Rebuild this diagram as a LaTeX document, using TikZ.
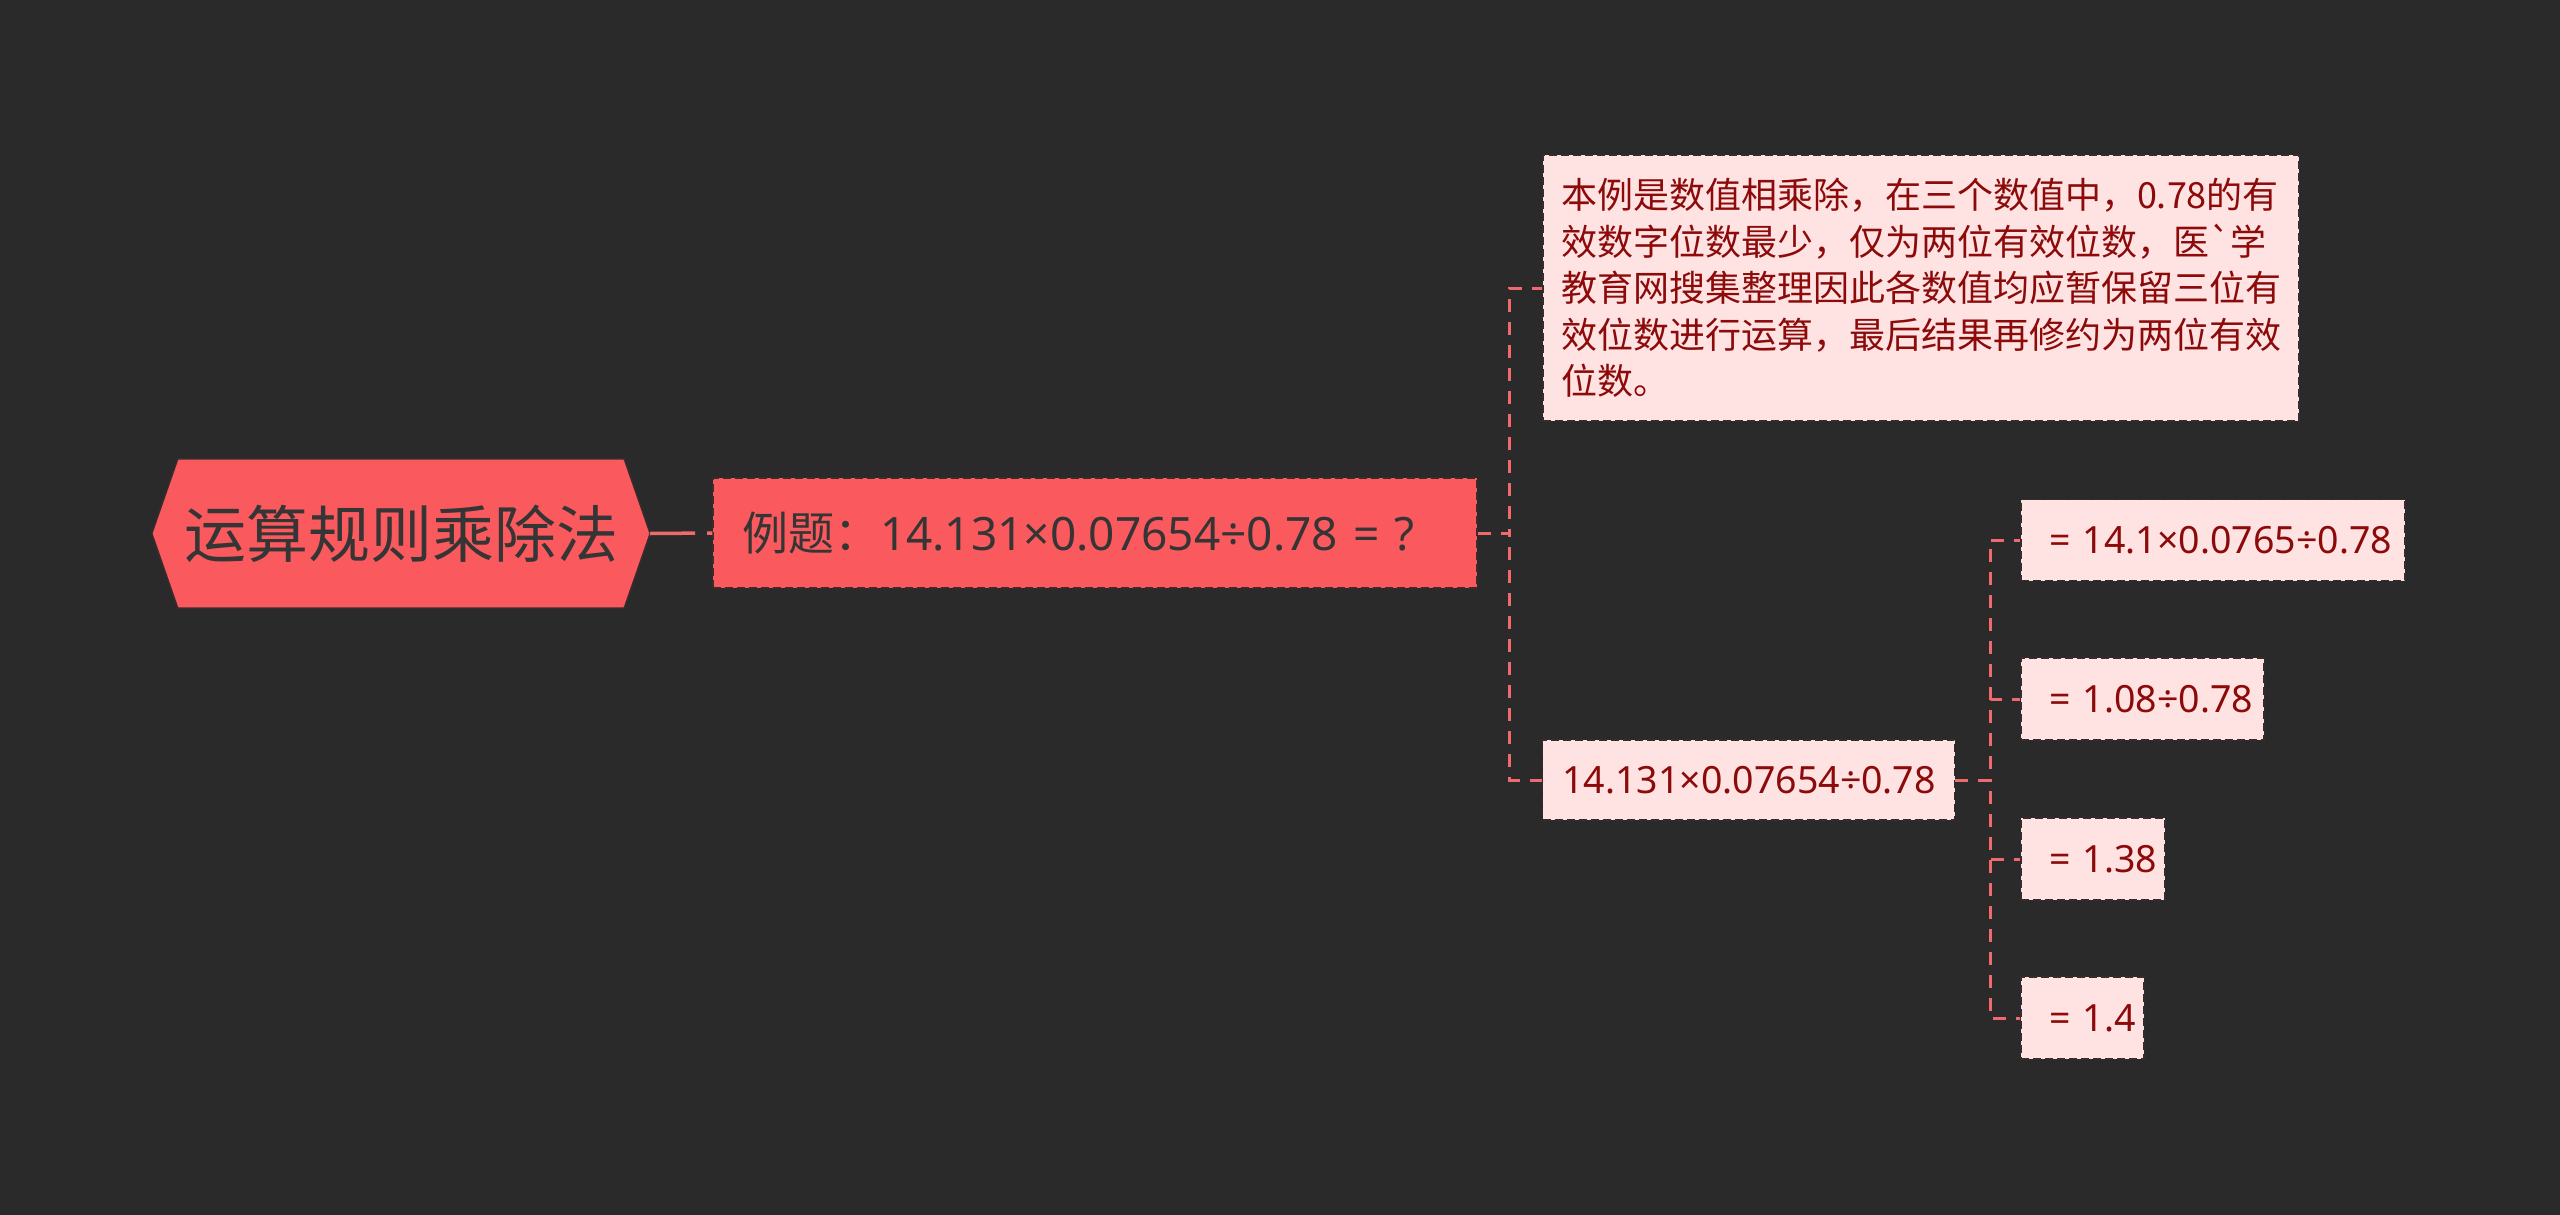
\documentclass[tikz,border=0pt]{standalone}
\usepackage{fontspec}
\newfontfamily\cjk{Noto Sans CJK SC}
\newfontfamily\lat{Noto Sans}
\usetikzlibrary{calc}
\definecolor{bg}{HTML}{2A2A2A}
\definecolor{red1}{HTML}{FA5A5E}
\definecolor{pink1}{HTML}{FFE3E3}
\definecolor{txtred}{HTML}{8C0A0A}
\definecolor{txtdark}{HTML}{353535}
\definecolor{linec}{HTML}{EE6A6C}
\definecolor{bord}{HTML}{3A2C2C}
\begin{document}
\begin{tikzpicture}[x=1pt,y=-1pt,
  conn/.style={draw=linec, line width=3pt, dash pattern=on 13pt off 10pt},
  boxbase/.style={rectangle, draw=bord, line width=1.3pt, dash pattern=on 8pt off 4pt, align=left, inner ysep=0pt, anchor=center},
  lightbox/.style={boxbase, fill=pink1, text=txtred, font=\lat\fontsize{37.5}{46.5}\selectfont},
  redbox/.style={boxbase, fill=red1, text=txtdark, font=\cjk\fontsize{46}{52}\selectfont}
]
\useasboundingbox (0,0) rectangle (2560,1215);
\fill[bg] (0,0) rectangle (2560,1215);

% root
\node[rectangle, minimum width=498pt, minimum height=149pt, inner sep=0pt] (root) at (401,533.5) {};
\fill[red1, draw=bord, line width=1.5pt]
  (root.west) -- ($(root.north west)+(26,0)$) -- ($(root.north east)+(-26,0)$) -- (root.east)
  -- ($(root.south east)+(-26,0)$) -- ($(root.south west)+(26,0)$) -- cycle;
\node[text=txtdark, font=\cjk\fontsize{62}{70}\selectfont] (roottext) at (root.center) {运算规则乘除法};

% level 1
\node[redbox, text width=706pt, inner xsep=29pt, minimum height=110pt] (c1) at (1095,533) {例题：{\lat 14.131×0.07654÷0.78~=~?}};

% level 2
\node[lightbox, font=\cjk\fontsize{36}{46.5}\selectfont, text width=720pt, inner xsep=18pt, minimum height=266pt] (c2) at (1921,288)
  {本例是数值相乘除，在三个数值中，0.78的有\\效数字位数最少，仅为两位有效位数，医`学\\教育网搜集整理因此各数值均应暂保留三位有\\效位数进行运算，最后结果再修约为两位有效\\位数。};
\node[lightbox, text width=372pt, inner xsep=20pt, minimum height=80pt] (c3) at (1748.5,780) {14.131×0.07654÷0.78};

% level 3
\node[lightbox, text width=328pt, inner xsep=28pt, minimum height=81pt] (g1) at (2213,540) {=~14.1×0.0765÷0.78};
\node[lightbox, text width=187pt, inner xsep=28pt, minimum height=82pt] (g2) at (2142.5,699) {=~1.08÷0.78};
\node[lightbox, text width=88pt, inner xsep=28pt, minimum height=82pt] (g3) at (2093,859) {=~1.38};
\node[lightbox, text width=67pt, inner xsep=28pt, minimum height=82pt] (g4) at (2082.5,1018) {=~1.4};

% connectors
\draw[draw=linec, line width=3.5pt, dash pattern=on 45pt off 12pt] (root.east) -- (c1.west);
\draw[conn] (c1.east) -- ++(32,0) |- (c2.west);
\draw[conn] (c1.east) -- ++(32,0) |- (c3.west);
\draw[conn] (c3.east) -- ++(35,0) |- (g1.west);
\draw[conn] (c3.east) -- ++(35,0) |- (g2.west);
\draw[conn] (c3.east) -- ++(35,0) |- (g3.west);
\draw[conn] (c3.east) -- ++(35,0) |- (g4.west);
\end{tikzpicture}
\end{document}
